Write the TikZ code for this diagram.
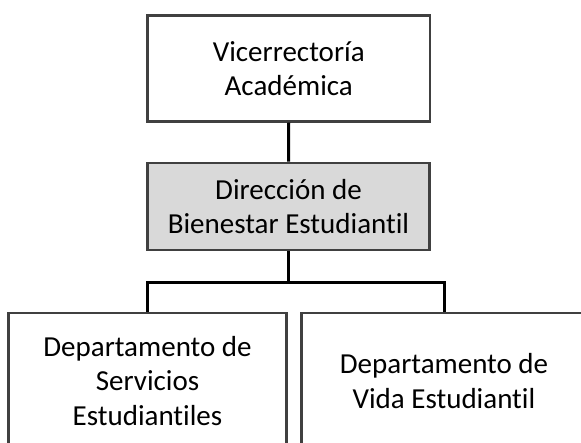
\documentclass[tikz,border=0pt]{standalone}
\usepackage{fontspec}
\setmainfont{Carlito}[Ligatures=NoCommon]
\begin{document}
\begin{tikzpicture}[x=1pt,y=-1pt,
  box/.style={draw=black!75, line width=2.7pt, inner sep=0pt, align=center,
    font=\fontsize{29}{34.3}\selectfont},
  conn/.style={draw=black, line width=3pt}]
\useasboundingbox (0,0) rectangle (581,442);
\clip (0,0) rectangle (581,442);
\node[box, minimum width=282.5pt, minimum height=105.5pt] (vice) at (288.75,68.5) {Vicerrectoría\\Académica};
\node[box, fill=black!15, minimum width=282pt, minimum height=87pt] (dir) at (288.5,206.5) {Dirección de\\Bienestar Estudiantil};
\node[box, minimum width=278pt, minimum height=136pt] (serv) at (147.5,381) {Departamento de\\Servicios\\Estudiantiles};
\node[box, minimum width=285pt, minimum height=136pt] (vida) at (444,381) {Departamento de\\Vida Estudiantil};
\coordinate (bus) at (288.5,282);
\draw[conn] (vice.south) -- (dir.north);
\draw[conn] (dir.south) -- (bus);
\draw[conn] (serv.north) |- (bus) -| (vida.north);
\end{tikzpicture}
\end{document}
